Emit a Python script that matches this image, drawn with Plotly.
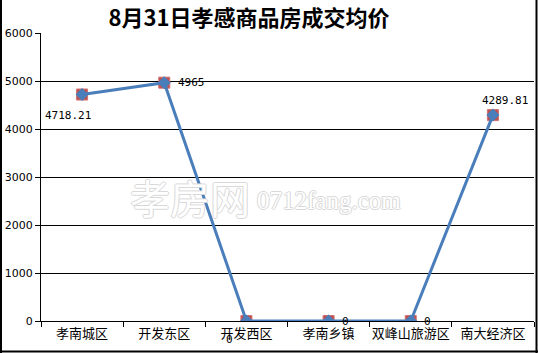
import plotly.graph_objects as go

categories = ["孝南城区", "开发东区", "开发西区", "孝南乡镇", "双峰山旅游区", "南大经济区"]
prices = [4718.21, 4965, 0, 0, 0, 4289.81]
price_labels = ["4718.21", "4965", "0", "0", "0", "4289.81"]
y_ticks = [0, 1000, 2000, 3000, 4000, 5000, 6000]
title_text = "8月31日孝感商品房成交均价"

# label offsets (pixels) per point
label_dx = [-14, 27, -17, 17, 17, 12]
label_dy = [-21, 0, -18, 0, 0, 15]

W, H = 538, 353
ml, mr, mt, mb = 41, 4, 33, 32
pw, ph = W - ml - mr, H - mt - mb

fig = go.Figure()
fig.add_trace(go.Scatter(
    x=categories, y=prices, mode="markers",
    marker=dict(symbol="square", size=11, color="#C0504D",
                line=dict(width=1, color="#D07070")),
    hoverinfo="skip", showlegend=False))
fig.add_trace(go.Scatter(
    x=categories, y=prices, mode="lines+markers",
    line=dict(color="#4A7EBB", width=3),
    marker=dict(symbol="diamond", size=10, color="#4A7EBB"),
    showlegend=False))

annotations = []
for c, v, t, dx, dy in zip(categories, prices, price_labels, label_dx, label_dy):
    annotations.append(dict(x=c, y=v, xref="x", yref="y", text=t, showarrow=False,
                            xshift=dx, yshift=dy, xanchor="center", yanchor="middle",
                            font=dict(family="DejaVu Sans Mono", size=11, color="#000000")))

def px2x(p):
    return (p - ml) / pw

def py2y(p):
    return (mt + ph - p) / ph

# watermark
wm_shadow = "1px 0 0 #d8d8d8, -1px 0 0 #d8d8d8, 0 1px 0 #d8d8d8, 0 -1px 0 #d8d8d8"
annotations.append(dict(x=px2x(190), y=py2y(197), xref="paper", yref="paper",
                        text="孝房网", showarrow=False, xanchor="center", yanchor="middle",
                        font=dict(family="Noto Sans CJK SC", size=40, color="#FFFFFF",
                                  shadow=wm_shadow)))
annotations.append(dict(x=px2x(329), y=py2y(200), xref="paper", yref="paper",
                        text="0712fang.com", showarrow=False, xanchor="center", yanchor="middle",
                        font=dict(family="Liberation Serif", size=25, color="#FFFFFF",
                                  shadow=wm_shadow)))

frame = dict(color="#000000", width=2)
shapes = [
    dict(type="line", xref="paper", yref="paper", x0=px2x(1), x1=px2x(1), y0=py2y(0), y1=py2y(353), line=frame),
    dict(type="line", xref="paper", yref="paper", x0=px2x(536.5), x1=px2x(536.5), y0=py2y(0), y1=py2y(353), line=frame),
    dict(type="line", xref="paper", yref="paper", x0=px2x(0), x1=px2x(538), y0=py2y(351.5), y1=py2y(351.5), line=frame),
]

fig.update_layout(
    width=W, height=H,
    margin=dict(l=ml, r=mr, t=mt, b=mb, autoexpand=False),
    paper_bgcolor="#FFFFFF", plot_bgcolor="#FFFFFF",
    title=dict(text="<b>" + title_text + "</b>", xref="container", yref="container",
               x=249 / W, y=1 - 18 / H, xanchor="center", yanchor="middle",
               font=dict(family="Noto Sans CJK SC", size=22, color="#000000")),
    xaxis=dict(type="category", categoryorder="array", categoryarray=categories,
               range=[-0.5, len(categories) - 0.5], tickson="boundaries",
               showline=True, linecolor="#000000", linewidth=1,
               ticks="outside", ticklen=5, tickcolor="#000000", tickwidth=1,
               showgrid=False, zeroline=False, tickangle=0, automargin=False,
               tickfont=dict(family="Noto Sans CJK SC", size=13, color="#000000")),
    yaxis=dict(range=[0, 6000], tickvals=y_ticks, ticktext=[str(v) for v in y_ticks],
               showline=True, linecolor="#000000", linewidth=1,
               ticks="outside", ticklen=5, tickcolor="#000000", tickwidth=1,
               showgrid=True, gridcolor="#000000", gridwidth=1, zeroline=False,
               automargin=False,
               tickfont=dict(family="DejaVu Sans", size=11, color="#000000")),
    annotations=annotations, shapes=shapes,
)

fig.write_html("out.html")
